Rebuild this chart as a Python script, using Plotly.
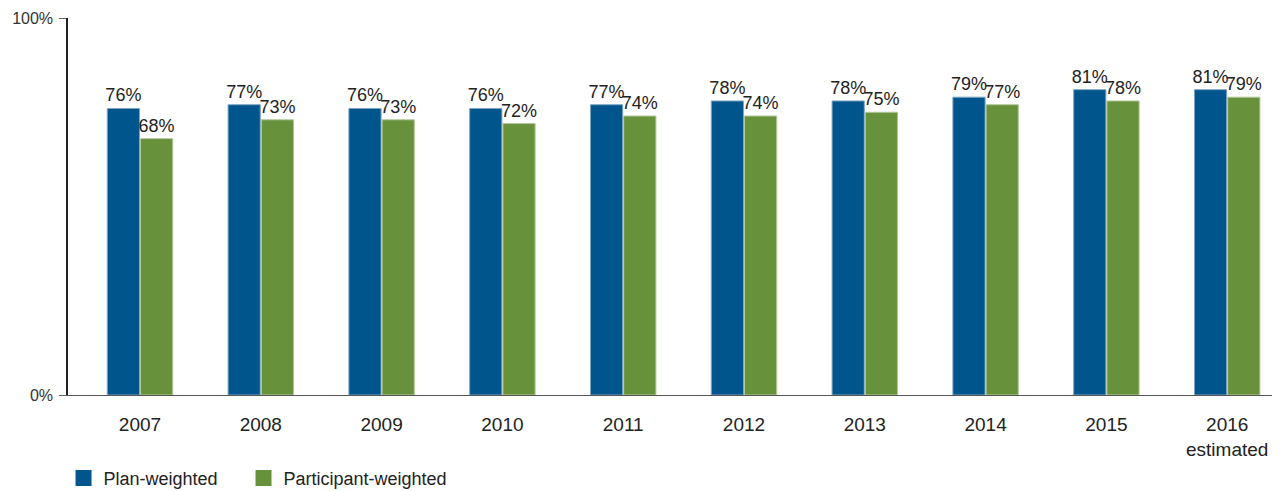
import plotly.graph_objects as go

years = ["2007", "2008", "2009", "2010", "2011", "2012", "2013", "2014", "2015", "2016<br>estimated"]
plan_weighted = [76, 77, 76, 76, 77, 78, 78, 79, 81, 81]
participant_weighted = [68, 73, 73, 72, 74, 74, 75, 77, 78, 79]

BLUE = "#00558c"
GREEN = "#68913c"
FONT = "Liberation Sans, Arial, sans-serif"


def main():
    fig = go.Figure()
    fig.add_bar(x=years, y=plan_weighted, name="Plan-weighted", showlegend=False,
                marker=dict(color=BLUE, line=dict(color="#7fa6c4", width=1)),
                text=[str(v) + "%" for v in plan_weighted], textposition="outside",
                constraintext="none",
                textfont=dict(size=18, color="#222222"), cliponaxis=False)
    fig.add_bar(x=years, y=participant_weighted, name="Participant-weighted", showlegend=False,
                marker=dict(color=GREEN, line=dict(color="#b3c99c", width=1)),
                text=[str(v) + "%" for v in participant_weighted], textposition="outside",
                constraintext="none",
                textfont=dict(size=18, color="#222222"), cliponaxis=False)
    # legend-only entries so the swatches come out as larger squares
    fig.add_scatter(x=[None], y=[None], mode="markers", name="Plan-weighted", legend="legend",
                    marker=dict(symbol="square", size=16, color=BLUE))
    fig.add_scatter(x=[None], y=[None], mode="markers", name="Participant-weighted", legend="legend2",
                    marker=dict(symbol="square", size=16, color=GREEN))
    leg = dict(orientation="h", xanchor="left", y=-0.172, yanchor="top",
               font=dict(size=18, color="#222222"), itemwidth=30)
    fig.update_layout(
        width=1272, height=483,
        barmode="group", bargap=0.45, bargroupgap=0.03,
        plot_bgcolor="white", paper_bgcolor="white",
        margin=dict(l=60, r=4, t=10, b=96, autoexpand=False),
        font=dict(family=FONT, size=16, color="#222222"),
        showlegend=True,
        legend=dict(leg, x=-0.0037),
        legend2=dict(leg, x=0.1453),
    )
    fig.update_yaxes(range=[0, 100], tickvals=[0, 100], ticktext=["0%", "100%"],
                     showgrid=False, zeroline=False, showline=True, linecolor="#222222",
                     linewidth=1.5, ticks="outside", ticklen=7, tickcolor="#666666",
                     ticklabelstandoff=3, automargin=False,
                     tickfont=dict(size=16, color="#333333"))
    fig.update_xaxes(range=[-0.596, 9.404], showline=True, linecolor="#555555", linewidth=1,
                     ticks="", ticklabelstandoff=12, automargin=False,
                     tickfont=dict(size=19, color="#222222"))
    fig.write_html("out.html")


if __name__ == "__main__":
    main()
